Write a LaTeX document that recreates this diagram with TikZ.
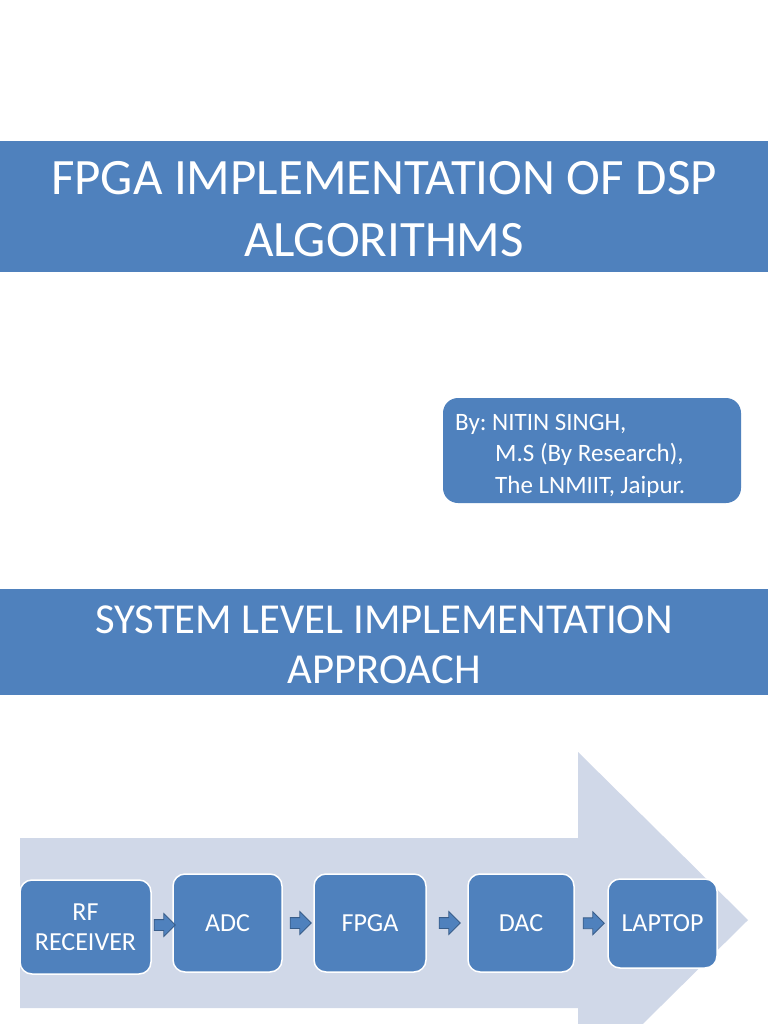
\documentclass[tikz,border=0pt]{standalone}
\usepackage{fontspec}
\setmainfont{Carlito}
\frenchspacing
\usetikzlibrary{shapes.arrows,calc}
\definecolor{accent}{HTML}{4F81BD}
\definecolor{accentdark}{HTML}{385D8A}
\definecolor{pale}{HTML}{D0D8E8}
\tikzset{
  titlebar/.style={fill=accent, draw=none},
  titletext/.style={text=white, font=\fontsize{51}{62}\selectfont, align=center},
  blockbox/.style={rounded corners=12pt, fill=accent, draw=white, line width=1.5pt,
    text=white, font=\fontsize{26}{30}\selectfont, align=center, inner sep=0pt},
  smallarrow/.style={single arrow, fill=accent, draw=accentdark, line width=0.8pt,
    minimum height=21pt, minimum width=22pt, single arrow head extend=6pt, inner sep=5pt}
}
\begin{document}
\begin{tikzpicture}[x=1pt,y=-1pt]
\useasboundingbox (0,0) rectangle (768,1024);
\fill[white] (0,0) rectangle (768,1024);
% title 1
\fill[titlebar] (0,141) rectangle (768,272);
\node[titletext] (t1) at (384,209) {FPGA IMPLEMENTATION OF DSP\\ALGORITHMS};
% author box
\node[rounded corners=15pt, fill=accent, minimum width=298pt, minimum height=105pt] (author) at (592,450.5) {};
\node[anchor=north west, text=white, font=\fontsize{25}{31.5}\selectfont, align=left, inner sep=0pt] (authortext) at (455,414)
  {By: NITIN SINGH,\\\hspace*{40pt}M.S (By Research),\\\hspace*{40pt}The LNMIIT, Jaipur.};
% title 2
\fill[titlebar] (0,589) rectangle (768,695);
\node[titletext, font=\fontsize{42.7}{50}\selectfont] (t2) at (384,645) {SYSTEM LEVEL IMPLEMENTATION\\APPROACH};
% big arrow
\begin{scope}
\clip (0,0) rectangle (768,1024);
\fill[pale] (20,838) -- (578,838) -- (578,752) -- (748,920) -- (578,1088) -- (578,1008) -- (20,1008) -- cycle;
\end{scope}
% blocks
\node[blockbox, minimum width=131pt, minimum height=94pt] (rf) at (85.5,927) {RF\\RECEIVER};
\node[blockbox, minimum width=109pt, minimum height=98pt] (adc) at (227.5,923) {ADC};
\node[blockbox, minimum width=112pt, minimum height=98pt] (fpga) at (370,923) {FPGA};
\node[blockbox, minimum width=106pt, minimum height=98pt] (dac) at (521,923) {DAC};
\node[blockbox, minimum width=109pt, minimum height=89pt] (laptop) at (662.5,923.5) {LAPTOP};
% small arrows
\node[smallarrow] (a1) at ($(rf.east)!0.5!(adc.west)$) {};
\node[smallarrow] (a2) at ($(adc.east)!0.5!(fpga.west)$) {};
\node[smallarrow] (a3) at ($(fpga.east)!0.5!(dac.west)$) {};
\node[smallarrow] (a4) at ($(dac.east)!0.5!(laptop.west)$) {};
\end{tikzpicture}
\end{document}
